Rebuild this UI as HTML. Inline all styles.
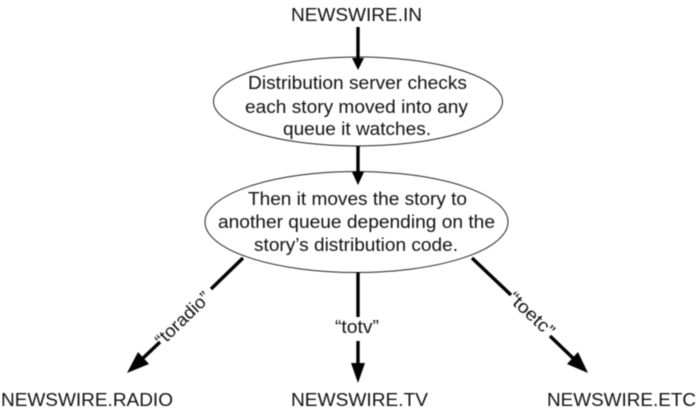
<!DOCTYPE html>
<html><head><meta charset="utf-8">
<style>
html,body{margin:0;padding:0;background:#fff;width:698px;height:412px;overflow:hidden}
svg{display:block;filter:blur(0.4px)}
text{font-family:"Liberation Sans",sans-serif;fill:#111;font-size:18px}
</style></head><body>
<svg width="698" height="412" viewBox="0 0 698 412" xmlns="http://www.w3.org/2000/svg">
<ellipse cx="358" cy="101.5" rx="144.5" ry="44.5" fill="#fff" stroke="#222" stroke-width="1"/>
<ellipse cx="356.5" cy="222" rx="151.5" ry="50.5" fill="#fff" stroke="#222" stroke-width="1"/>

<g stroke="#000" stroke-width="3.4" fill="none">
<line x1="358" y1="27" x2="358" y2="60"/>
<line x1="358" y1="146" x2="358" y2="174"/>
<line x1="358" y1="272" x2="358" y2="317"/>
<line x1="358" y1="341" x2="358" y2="366"/>
<line x1="243" y1="258" x2="211" y2="289"/>
<line x1="160" y1="342" x2="140" y2="361"/>
<line x1="472" y1="258" x2="511" y2="295"/>
<line x1="550" y1="336" x2="576" y2="361"/>
</g>
<g fill="#000">
<polygon points="352,58 364,58 358,70"/>
<polygon points="352,172 364,172 358,185"/>
<polygon points="351,363 365,363 358,383"/>
<polygon points="127,373 138,352 149,364"/>
<polygon points="588,373 567,364 578,352"/>
</g>

<text x="291" y="21" textLength="131" lengthAdjust="spacingAndGlyphs">NEWSWIRE.IN</text>
<text x="248" y="89" textLength="219" lengthAdjust="spacingAndGlyphs">Distribution server checks</text>
<text x="245" y="113" textLength="223" lengthAdjust="spacingAndGlyphs">each story moved into any</text>
<text x="283" y="135" textLength="148" lengthAdjust="spacingAndGlyphs">queue it watches.</text>
<text x="248" y="205" textLength="219" lengthAdjust="spacingAndGlyphs">Then it moves the story to</text>
<text x="218" y="228" textLength="277" lengthAdjust="spacingAndGlyphs">another queue depending on the</text>
<text x="254" y="251" textLength="204" lengthAdjust="spacingAndGlyphs">story’s distribution code.</text>

<text x="1" y="406" textLength="172" lengthAdjust="spacingAndGlyphs">NEWSWIRE.RADIO</text>
<text x="291" y="406" textLength="137" lengthAdjust="spacingAndGlyphs">NEWSWIRE.TV</text>
<text x="547" y="406" textLength="149" lengthAdjust="spacingAndGlyphs">NEWSWIRE.ETC</text>

<text x="335" y="333" textLength="44" lengthAdjust="spacingAndGlyphs">“totv”</text>
<text transform="translate(162,347) rotate(-44)" textLength="69" lengthAdjust="spacingAndGlyphs">“toradio”</text>
<text transform="translate(507,299.5) rotate(43)" textLength="56" lengthAdjust="spacingAndGlyphs">“toetc”</text>
</svg>
</body></html>
